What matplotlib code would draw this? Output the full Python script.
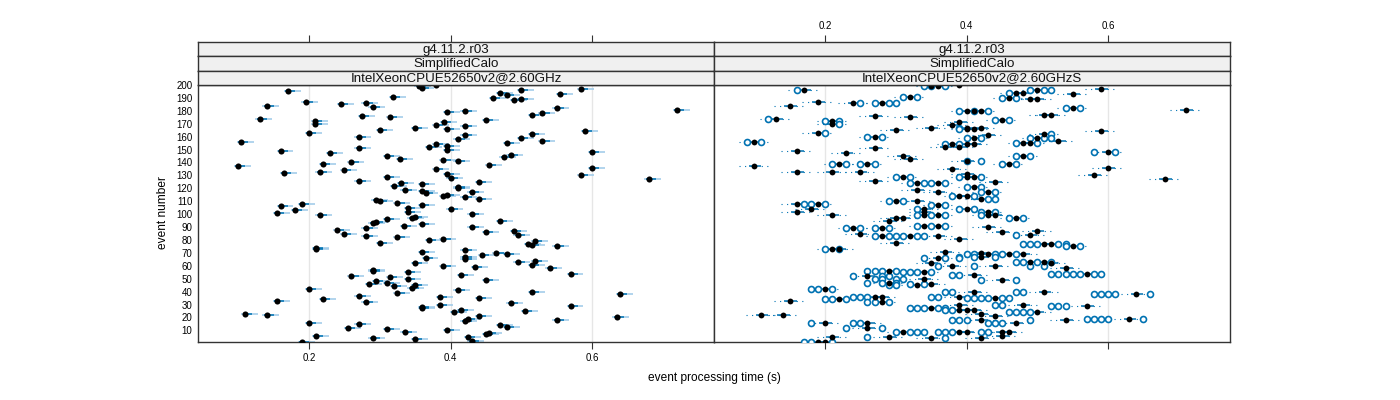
import matplotlib
matplotlib.use("Agg")
import matplotlib.pyplot as plt
import numpy as np

plt.rcParams["font.family"] = ["Liberation Sans", "DejaVu Sans"]

# ---------------- data ----------------
# left panel: median processing time of events 1..200
left_time = [
    0.190, 0.430, 0.350, 0.290, 0.425, 0.210, 0.450, 0.455, 0.335, 0.395,   # 1-10
    0.310, 0.255, 0.480, 0.470, 0.270, 0.200, 0.420, 0.550, 0.425, 0.635,   # 11-20
    0.440, 0.140, 0.110, 0.405, 0.505, 0.415, 0.360, 0.360, 0.570, 0.385,   # 21-30
    0.485, 0.280, 0.155, 0.220, 0.440, 0.385, 0.270, 0.640, 0.325, 0.515,   # 31-40
    0.410, 0.200, 0.345, 0.320, 0.350, 0.285, 0.310, 0.295, 0.450, 0.340,   # 41-50
    0.315, 0.260, 0.415, 0.570, 0.340, 0.290, 0.290, 0.540, 0.435, 0.390,   # 51-60
    0.515, 0.350, 0.495, 0.520, 0.420, 0.365, 0.420, 0.445, 0.480, 0.465,   # 61-70
    0.360, 0.420, 0.210, 0.210, 0.550, 0.515, 0.510, 0.300, 0.520, 0.370,   # 71-80
    0.390, 0.325, 0.280, 0.495, 0.250, 0.450, 0.490, 0.240, 0.280, 0.430,   # 81-90
    0.334, 0.360, 0.290, 0.294, 0.470, 0.310, 0.345, 0.350, 0.215, 0.430,   # 91-100
    0.155, 0.340, 0.180, 0.400, 0.340, 0.160, 0.360, 0.190, 0.325, 0.300,   # 101-110
    0.294, 0.440, 0.420, 0.390, 0.395, 0.365, 0.430, 0.360, 0.335, 0.410,   # 111-120
    0.410, 0.320, 0.360, 0.330, 0.440, 0.270, 0.680, 0.400, 0.310, 0.585,   # 121-130
    0.395, 0.165, 0.215, 0.250, 0.380, 0.600, 0.100, 0.455, 0.220, 0.260,   # 131-140
    0.410, 0.390, 0.329, 0.475, 0.310, 0.485, 0.230, 0.600, 0.160, 0.395,   # 141-150
    0.270, 0.370, 0.395, 0.380, 0.480, 0.104, 0.530, 0.410, 0.500, 0.270,   # 151-160
    0.420, 0.515, 0.200, 0.590, 0.300, 0.395, 0.350, 0.420, 0.380, 0.209,   # 161-170
    0.391, 0.209, 0.450, 0.130, 0.315, 0.275, 0.515, 0.530, 0.395, 0.420,   # 171-180
    0.720, 0.550, 0.290, 0.140, 0.245, 0.280, 0.195, 0.490, 0.500, 0.460,   # 181-190
    0.319, 0.480, 0.555, 0.470, 0.170, 0.500, 0.585, 0.359, 0.355, 0.380,   # 191-200
]
left_event = list(range(1, 201))

# right panel: summary points (filled) and individual runs (open circles)
rdot_event = [
    200, 199, 199, 197, 196, 196, 194, 194, 193, 191, 190, 189, 189, 187,
    186, 186, 184, 182, 181, 180, 180, 180, 177, 177, 176, 175, 174, 173,
    172, 171, 170, 169, 167, 167, 167, 166, 166, 165, 164, 163, 162, 161,
    160, 159, 159, 157, 156, 155, 155, 154, 154, 154, 152, 152, 151, 149,
    148, 147, 145, 145, 143, 141, 139, 139, 139, 137, 136, 135, 133, 133,
    133, 131, 130, 129, 129, 129, 127, 126, 125, 124, 124, 121, 119, 117,
    117, 114, 114, 112, 110, 110, 108, 108, 107, 104, 104, 104, 102, 102,
    102, 99, 99, 99, 99, 99, 97, 97, 97, 95, 91, 91, 90, 89, 89, 87, 86,
    85, 84, 83, 83, 83, 81, 78, 77, 77, 75, 73, 73, 71, 70, 69, 69, 69,
    67, 66, 63, 63, 62, 62, 60, 60, 58, 56, 55, 54, 53, 52, 50, 49, 47,
    46, 45, 42, 40, 40, 38, 36, 36, 36, 35, 34, 33, 32, 30, 30, 29, 27,
    26, 26, 26, 24, 23, 22, 22, 21, 19, 18, 18, 16, 16, 16, 12, 9, 9, 9,
    9, 9, 6, 5, 5, 4, 4, 1, 1,
]
rdot_time = [
    0.39, 0.35, 0.36, 0.59, 0.17, 0.50, 0.47, 0.48, 0.55, 0.32, 0.46, 0.49, 0.50, 0.19,
    0.24, 0.28, 0.15, 0.55, 0.71, 0.40, 0.41, 0.42, 0.51, 0.52, 0.27, 0.32, 0.13, 0.45,
    0.21, 0.39, 0.21, 0.38, 0.35, 0.40, 0.42, 0.40, 0.41, 0.30, 0.59, 0.19, 0.51, 0.43,
    0.27, 0.41, 0.50, 0.53, 0.10, 0.48, 0.49, 0.38, 0.40, 0.41, 0.37, 0.39, 0.27, 0.16,
    0.60, 0.23, 0.31, 0.48, 0.32, 0.40, 0.22, 0.26, 0.46, 0.10, 0.60, 0.38, 0.16, 0.21,
    0.25, 0.40, 0.58, 0.31, 0.40, 0.41, 0.68, 0.27, 0.44, 0.33, 0.36, 0.41, 0.33, 0.36,
    0.43, 0.39, 0.40, 0.42, 0.30, 0.33, 0.16, 0.19, 0.36, 0.34, 0.40, 0.18, 0.43, 0.16,
    0.34, 0.21, 0.34, 0.36, 0.43, 0.44, 0.30, 0.31, 0.47, 0.29, 0.34, 0.36, 0.43, 0.24, 0.28, 0.50, 0.45,
    0.25, 0.49, 0.28, 0.32, 0.36, 0.39, 0.30, 0.51, 0.52, 0.55, 0.21, 0.22, 0.37, 0.42, 0.43, 0.46, 0.48,
    0.42, 0.36, 0.49, 0.51, 0.35, 0.52, 0.38, 0.44, 0.54, 0.29, 0.34, 0.57, 0.41, 0.26, 0.34, 0.45, 0.29,
    0.35, 0.33, 0.20, 0.41, 0.51, 0.64, 0.27, 0.28, 0.39, 0.44, 0.22, 0.15, 0.28, 0.48, 0.39, 0.57, 0.35,
    0.39, 0.40, 0.41, 0.50, 0.42, 0.11, 0.14, 0.44, 0.63, 0.54, 0.42, 0.20, 0.26, 0.47, 0.26, 0.31, 0.39, 0.40,
    0.45, 0.46, 0.45, 0.29, 0.21, 0.35, 0.42, 0.19, 0.20,
]
circ_event = [
    199, 199, 199, 196, 196, 196, 196, 194, 191, 191, 190, 190, 186, 186,
    186, 186, 182, 182, 180, 180, 180, 174, 173, 173, 172, 172, 170, 167,
    166, 163, 162, 160, 160, 159, 159, 159, 159, 159, 156, 156, 155, 155,
    154, 154, 148, 148, 145, 145, 141, 141, 139, 139, 139, 139, 139, 139,
    129, 129, 129, 129, 124, 124, 124, 124, 121, 121, 117, 117, 114, 114,
    112, 112, 110, 110, 108, 108, 108, 107, 107, 104, 104, 104, 102, 102,
    99, 99, 99, 99, 97, 97, 91, 91, 91, 89, 89, 89, 89, 84, 83, 83, 83,
    83, 83, 83, 77, 77, 77, 77, 77, 75, 75, 73, 73, 69, 69, 69, 69, 69,
    67, 67, 67, 66, 66, 66, 63, 63, 63, 63, 60, 60, 60, 60, 56, 56, 56,
    56, 55, 55, 55, 55, 54, 54, 54, 54, 54, 54, 54, 53, 53, 52, 52, 52,
    50, 50, 50, 50, 49, 49, 47, 47, 47, 46, 46, 45, 45, 42, 42, 42, 40,
    40, 40, 40, 38, 38, 38, 38, 38, 36, 36, 36, 36, 36, 35, 35, 35, 35,
    35, 35, 34, 34, 34, 32, 32, 32, 30, 30, 29, 29, 29, 27, 27, 27, 27,
    27, 26, 26, 24, 24, 24, 24, 19, 19, 19, 19, 19, 18, 18, 18, 18, 16,
    16, 16, 16, 16, 16, 12, 12, 9, 9, 9, 9, 9, 9, 9, 9, 9, 5, 4, 1, 1, 1,
]
circ_time = [
    0.34, 0.35, 0.37, 0.16, 0.49, 0.51, 0.52, 0.46, 0.31, 0.33, 0.45, 0.47, 0.25, 0.27,
    0.29, 0.30, 0.54, 0.56, 0.39, 0.41, 0.43, 0.12, 0.44, 0.46, 0.20, 0.22, 0.22, 0.39,
    0.39, 0.20, 0.52, 0.26, 0.28, 0.49, 0.51, 0.52, 0.40, 0.42, 0.09, 0.11, 0.47, 0.50,
    0.37, 0.39, 0.58, 0.61, 0.47, 0.49, 0.40, 0.42, 0.21, 0.23, 0.25, 0.27, 0.45, 0.47,
    0.30, 0.32, 0.39, 0.42, 0.32, 0.34, 0.35, 0.37, 0.40, 0.42, 0.42, 0.44, 0.38, 0.41,
    0.43, 0.44, 0.29, 0.31, 0.17, 0.18, 0.20, 0.35, 0.37, 0.33, 0.39, 0.41, 0.42, 0.44,
    0.33, 0.35, 0.37, 0.42, 0.46, 0.48, 0.33, 0.35, 0.37, 0.23, 0.25, 0.27, 0.29, 0.47, 0.27, 0.29, 0.30,
    0.31, 0.33, 0.34, 0.48, 0.49, 0.50, 0.53, 0.54, 0.54, 0.56, 0.20, 0.22, 0.40, 0.41, 0.44, 0.45, 0.47,
    0.39, 0.41, 0.44, 0.34, 0.37, 0.39, 0.47, 0.48, 0.50, 0.52, 0.36, 0.41, 0.49, 0.51, 0.26, 0.27, 0.28,
    0.30, 0.31, 0.32, 0.33, 0.35, 0.52, 0.53, 0.54, 0.55, 0.56, 0.58, 0.59, 0.38, 0.39, 0.24, 0.28, 0.29,
    0.27, 0.28, 0.30, 0.31, 0.42, 0.47, 0.26, 0.28, 0.30, 0.32, 0.34, 0.29, 0.30, 0.18, 0.19, 0.21, 0.37,
    0.38, 0.47, 0.48, 0.58, 0.59, 0.60, 0.61, 0.66, 0.24, 0.25, 0.26, 0.35, 0.36, 0.40, 0.41, 0.42, 0.43,
    0.45, 0.46, 0.20, 0.21, 0.23, 0.26, 0.27, 0.29, 0.44, 0.45, 0.52, 0.53, 0.54, 0.32, 0.33, 0.34, 0.36,
    0.37, 0.37, 0.38, 0.46, 0.47, 0.48, 0.49, 0.57, 0.58, 0.59, 0.60, 0.65, 0.38, 0.39, 0.40, 0.49, 0.18,
    0.24, 0.25, 0.43, 0.44, 0.45, 0.23, 0.28, 0.30, 0.32, 0.33, 0.34, 0.36, 0.37, 0.38, 0.42, 0.43, 0.26, 0.37, 0.17, 0.18, 0.21,
]

strip_labels = [
    ["g4.11.2.r03", "SimplifiedCalo", "IntelXeonCPUE52650v2@2.60GHz"],
    ["g4.11.2.r03", "SimplifiedCalo", "IntelXeonCPUE52650v2@2.60GHzS"],
]
x_ticks = [0.2, 0.4, 0.6]
y_ticks = list(range(10, 201, 10))
x_label = "event processing time (s)"
y_label = "event number"

# ---------------- style ----------------
W, H = 1400, 400
XLIM = (0.043, 0.7725)
YLIM = (1, 200)
BLUE = "#0072B2"
LIGHTBLUE = "#9cc9e8"
FRAME = "#333333"
FS = 7

fig = plt.figure(figsize=(W / 100, H / 100), dpi=100)
fig.patch.set_facecolor("white")


def fx(px):
    return px / W


def fy(py):
    return 1 - py / H


panel_x = [198, 714]
panel_w = 516
panel_top, panel_bot = 85, 342
strip_edges = [42, 56.3, 70.7, 85]

axes = []
for i, x0 in enumerate(panel_x):
    ax = fig.add_axes([fx(x0), fy(panel_bot), fx(panel_w), (panel_bot - panel_top) / H])
    ax.set_xlim(*XLIM)
    ax.set_ylim(*YLIM)
    for s in ax.spines.values():
        s.set_color(FRAME)
        s.set_linewidth(1.0)
    for xt in x_ticks:
        ax.axvline(xt, color="#e6e6e6", lw=1.0, zorder=0)
    ax.set_xticks(x_ticks)
    ax.set_yticks(y_ticks)
    ax.tick_params(axis="x", direction="out", length=5, width=0.8, color=FRAME,
                   labelsize=FS, pad=3)
    ax.tick_params(axis="y", length=0, labelsize=FS, pad=4)
    if i == 0:
        ax.set_xticklabels([f"{t:.1f}" for t in x_ticks])
        ax.set_yticklabels([str(t) for t in y_ticks])
    else:
        ax.set_xticklabels([])
        ax.set_yticklabels([])
    axes.append(ax)

    # strips
    for k in range(3):
        y_a, y_b = strip_edges[k], strip_edges[k + 1]
        sax = fig.add_axes([fx(x0), fy(y_b), fx(panel_w), (y_b - y_a) / H])
        sax.set_facecolor("#f0f0f0")
        sax.set_xlim(*XLIM)
        sax.set_ylim(0, 1)
        for s in sax.spines.values():
            s.set_color(FRAME)
            s.set_linewidth(1.0)
        sax.text(0.5, 0.45, strip_labels[i][k], transform=sax.transAxes,
                 ha="center", va="center", fontsize=9.6, color="#111111")
        sax.set_yticks([])
        if k == 0:
            sax.set_xticks(x_ticks)
            sax.xaxis.tick_top()
            sax.tick_params(axis="x", direction="out", length=5, width=0.8,
                            color=FRAME, labelsize=FS, pad=3)
            if i == 1:
                sax.set_xticklabels([f"{t:.1f}" for t in x_ticks])
            else:
                sax.set_xticklabels([])
        else:
            sax.set_xticks([])

ax1, ax2 = axes

# ---- left panel ----
lt = np.array(left_time)
le = np.array(left_event)
ax1.hlines(le, lt - 0.006, lt + 0.018, color=LIGHTBLUE, lw=1.1, zorder=2)
ax1.hlines(le, lt - 0.004, lt + 0.010, color=BLUE, lw=1.1, zorder=3)
ax1.plot(lt, le, "o", color="black", ms=4.4, mew=0, zorder=4)

# ---- right panel ----
rt = np.array(rdot_time)
re = np.array(rdot_event)
ct = np.array(circ_time)
ce = np.array(circ_event)
ax2.hlines(re, rt - 0.022, rt + 0.022, color=BLUE, lw=0.8,
           linestyles=(0, (1, 4)), zorder=2)
ax2.hlines(re, rt - 0.008, rt + 0.010, color=BLUE, lw=1.1, zorder=3)
ax2.plot(ct, ce, "o", mfc="white", mec=BLUE, ms=4.3, mew=1.2, zorder=4)
ax2.plot(rt, re, "o", color="black", ms=4.2, mew=0, zorder=5)

# labels
fig.text(fx(714), fy(378), x_label, ha="center", va="center", fontsize=8.6)
fig.text(fx(163), fy(213), y_label, ha="center", va="center", fontsize=8.6,
         rotation=90)

fig.savefig("out.png", dpi=100, facecolor="white")
